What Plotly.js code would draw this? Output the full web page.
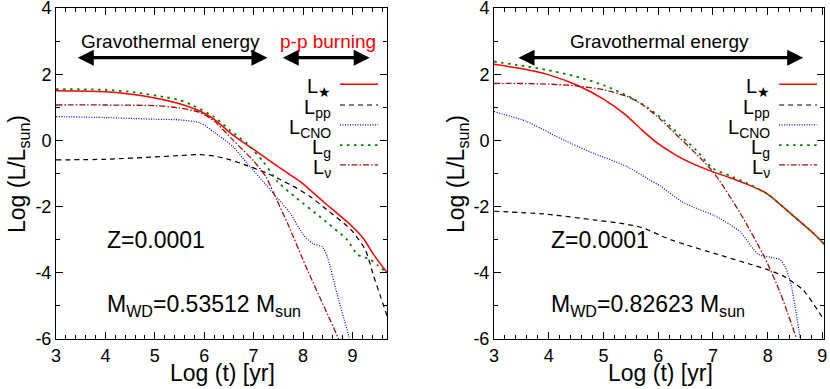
<!DOCTYPE html>
<html>
<head>
<meta charset="utf-8">
<script src="https://cdn.plot.ly/plotly-3.0.1.min.js"></script>
<style>
  html, body { margin: 0; padding: 0; background: #fff; }
  #plot { width: 830px; height: 389px; }
</style>
</head>
<body>
<div id="plot"></div>
<script>
// ---- data: log(t) [yr] vs log(L/Lsun) ----

// left panel, M_WD = 0.53512
let tStarA = [3, 4, 4.84, 5.45, 5.92, 6.19, 6.59, 6.87, 7.2, 7.54, 7.95, 8.42, 8.96, 9.23, 9.43, 9.7];
let lStarA = [1.50, 1.47, 1.33, 1.13, 0.88, 0.65, 0.15, -0.14, -0.48, -0.84, -1.25, -1.86, -2.55, -2.98, -3.45, -3.99];
let tPpA = [3, 4, 5, 5.5, 5.9, 6.2, 6.53, 6.87, 7.27, 7.5, 7.88, 8.15, 8.42, 8.96, 9.26, 9.43, 9.57, 9.7];
let lPpA = [-0.59, -0.57, -0.50, -0.46, -0.43, -0.47, -0.59, -0.76, -0.99, -1.15, -1.45, -1.70, -2.02, -2.68, -3.30, -4.10, -4.72, -5.30];
let tCnoA = [3, 4, 5, 5.51, 5.92, 6.19, 6.59, 6.87, 7.4, 7.74, 8.01, 8.22, 8.39, 8.49, 8.69, 8.93, 8.97];
let lCnoA = [0.72, 0.69, 0.64, 0.62, 0.53, 0.26, -0.2, -0.69, -1.6, -2.2, -2.86, -3.13, -3.21, -3.5, -4.65, -5.93, -6.2];
let tGA = [3, 4, 4.6, 5.24, 5.51, 5.78, 6.19, 6.53, 6.87, 7.2, 7.5, 7.85, 8.42, 8.89, 9.1, 9.37, 9.5, 9.7];
let lGA = [1.55, 1.53, 1.45, 1.30, 1.22, 1.05, 0.72, 0.30, -0.1, -0.65, -1.27, -1.72, -2.40, -3.0, -3.45, -3.60, -3.76, -4.0];
let tNuA = [3, 4, 5, 5.5, 5.9, 6.19, 6.59, 7.0, 7.25, 7.47, 7.7, 8.1, 8.45, 8.72, 8.8];
let lNuA = [1.07, 1.07, 1.05, 0.98, 0.85, 0.6, 0.0, -0.62, -1.1, -1.8, -2.55, -3.95, -5.1, -6.0, -6.3];

// right panel, M_WD = 0.82623
let tStarB = [3, 3.5, 4, 4.5, 5, 5.4, 5.7, 6.0, 6.3, 6.6, 7.0, 7.3, 7.62, 8.0, 8.4, 8.84, 9.05];
let lStarB = [2.30, 2.17, 1.98, 1.68, 1.25, 0.78, 0.32, -0.1, -0.42, -0.68, -0.95, -1.12, -1.32, -1.62, -2.18, -2.81, -3.16];
let tPpB = [3, 3.91, 4.82, 5.3, 5.7, 6.15, 6.5, 7.04, 7.68, 8.01, 8.29, 8.65, 9.04];
let lPpB = [-2.14, -2.22, -2.40, -2.50, -2.63, -2.95, -3.15, -3.42, -3.74, -3.91, -4.10, -4.52, -5.45];
let tCnoB = [3, 3.6, 4.21, 4.82, 5.43, 5.85, 6.04, 6.43, 6.65, 7.04, 7.49, 7.82, 8.05, 8.23, 8.33, 8.42, 8.5, 8.6];
let lCnoB = [0.87, 0.57, 0.06, -0.39, -0.79, -1.2, -1.38, -1.85, -2.02, -2.28, -2.75, -3.43, -3.53, -3.6, -3.85, -4.3, -5.0, -6.05];
let tGB = [3, 3.5, 4, 4.5, 5, 5.5, 5.8, 6.1, 6.4, 6.7, 7.0, 7.3, 7.62, 8.0, 8.4, 8.84, 9.05];
let lGB = [2.38, 2.26, 2.12, 1.93, 1.67, 1.30, 1.0, 0.62, 0.15, -0.3, -0.85, -1.06, -1.29, -1.62, -2.18, -2.81, -3.16];
let tNuB = [3, 3.5, 4, 4.5, 5, 5.43, 5.74, 6.04, 6.35, 6.58, 7.01, 7.5, 7.95, 8.23, 8.53];
let lNuB = [1.72, 1.72, 1.70, 1.65, 1.53, 1.33, 1.05, 0.64, 0.14, -0.22, -0.96, -2.2, -3.55, -4.6, -6.0];

// legend labels and tick labels
let seriesNames = ["L<sub>★</sub>", "L<sub>pp</sub>", "L<sub>CNO</sub>", "L<sub>g</sub>", "L<sub>ν</sub>"];
let xTicks = [3, 4, 5, 6, 7, 8, 9];
let yTicks = [-6, -4, -2, 0, 2, 4];
let yTickText = ["-6", "-4", "-2", "0", "2", "4"];
let massLabels = ["M<sub>WD</sub>=0.53512 M<sub>sun</sub>", "M<sub>WD</sub>=0.82623 M<sub>sun</sub>"];

// line styles, same order as seriesNames
let styles = [
    {color: "#ff0000", width: 1.5, dash: "solid"},
    {color: "#000000", width: 1.2, dash: "5px,4px"},
    {color: "#0000ff", width: 1.2, dash: "1px,1.5px"},
    {color: "#008000", width: 1.8, dash: "2.5px,4.5px"},
    {color: "#a01010", width: 1.3, dash: "6px,2px,1.5px,2px"}
];

let panelA = [[tStarA, lStarA], [tPpA, lPpA], [tCnoA, lCnoA], [tGA, lGA], [tNuA, lNuA]];
let panelB = [[tStarB, lStarB], [tPpB, lPpB], [tCnoB, lCnoB], [tGB, lGB], [tNuB, lNuB]];

let data = [];
function addPanel(panel, xa, ya) {
    panel.forEach(function(s, i) {
        data.push({
            x: s[0], y: s[1],
            xaxis: xa, yaxis: ya,
            type: "scatter", mode: "lines",
            line: {color: styles[i].color, width: styles[i].width, dash: styles[i].dash, shape: "spline", smoothing: 0.6},
            showlegend: false, hoverinfo: "skip"
        });
    });
}
addPanel(panelA, "x", "y");
addPanel(panelB, "x2", "y2");

let font = "Liberation Sans, Arial, Helvetica, sans-serif";

// minor tick positions
let xMinor = [];
for (let v = 3; v <= 9.8; v += 0.2) xMinor.push(Math.round(v * 10) / 10);
let yMinor = [-5, -3, -1, 1, 3];

function xAxis(domain, range, anchor) {
    return {
        domain: domain, range: range, anchor: anchor,
        tickmode: "array", tickvals: xTicks, ticktext: xTicks.map(String),
        ticks: "inside", ticklen: 7, tickcolor: "#000", tickwidth: 1,
        minor: {tickmode: "array", tickvals: xMinor, ticks: "inside", ticklen: 4, tickcolor: "#000", tickwidth: 1},
        showline: true, linecolor: "#000", linewidth: 1, mirror: "ticks",
        showgrid: false, zeroline: false, ticklabeloverflow: "allow",
        tickfont: {family: font, size: 18, color: "#000"}
    };
}
function yAxis(domain, anchor) {
    return {
        domain: domain, range: [-6, 4], anchor: anchor,
        tickmode: "array", tickvals: yTicks, ticktext: yTickText,
        ticks: "inside", ticklen: 7, tickcolor: "#000", tickwidth: 1,
        minor: {tickmode: "array", tickvals: yMinor, ticks: "inside", ticklen: 4, tickcolor: "#000", tickwidth: 1},
        showline: true, linecolor: "#000", linewidth: 1, mirror: "ticks",
        showgrid: false, zeroline: false, ticklabeloverflow: "allow",
        tickfont: {family: font, size: 18, color: "#000"}
    };
}

let yDom = [0.1285, 0.9794];
let annotations = [];
let shapes = [];

// axis titles
function axisTitles(cx, cyx) {
    annotations.push({xref: "paper", yref: "paper", x: cx, y: 1 - 373 / 389, text: "Log (t) [yr]",
        showarrow: false, font: {family: font, size: 23, color: "#000"}, xanchor: "center", yanchor: "middle"});
    annotations.push({xref: "paper", yref: "paper", x: cyx, y: 1 - 174 / 389, text: "Log (L/L<sub>sun</sub>)",
        textangle: -90, showarrow: false, font: {family: font, size: 23, color: "#000"}, xanchor: "center", yanchor: "middle"});
}
axisTitles(222 / 830, 18 / 830);
axisTitles(660 / 830, 457 / 830);

// legends drawn inside each panel: label on the left, line sample on the right
function legend(xa, ya, textX, x0, x1) {
    let rows = [0.770, 0.707, 0.647, 0.586, 0.526];
    seriesNames.forEach(function(name, i) {
        shapes.push({type: "line", xref: xa + " domain", yref: ya + " domain", x0: x0, x1: x1, y0: rows[i], y1: rows[i],
            line: {color: styles[i].color, width: styles[i].width, dash: styles[i].dash}});
        annotations.push({xref: xa + " domain", yref: ya + " domain", x: textX, y: rows[i] - 0.01, text: name,
            showarrow: false, xanchor: "right", yanchor: "middle", font: {family: font, size: 20, color: "#000"}});
    });
}
legend("x", "y", 0.836, 0.858, 0.973);
legend("x2", "y2", 0.841, 0.864, 0.979);

// double arrows and their labels
function arrow(xa, ya, xStart, xEnd) {
    annotations.push({xref: xa, yref: ya, axref: xa, ayref: ya, x: xEnd, y: 2.5, ax: xStart, ay: 2.5,
        text: "", showarrow: true, arrowside: "end+start", arrowhead: 2, arrowsize: 1, arrowwidth: 3.2, arrowcolor: "#000"});
}
arrow("x", "y", 3.41, 7.28);
arrow("x", "y", 7.56, 9.35);
arrow("x2", "y2", 3.42, 8.65);

annotations.push({xref: "x", yref: "y", x: 5.31, y: 3.0, text: "Gravothermal energy", showarrow: false,
    font: {family: font, size: 19, color: "#000"}});
annotations.push({xref: "x", yref: "y", x: 8.51, y: 3.0, text: "p-p burning", showarrow: false,
    font: {family: font, size: 19, color: "#ff0000"}});
annotations.push({xref: "x2", yref: "y2", x: 6.03, y: 3.0, text: "Gravothermal energy", showarrow: false,
    font: {family: font, size: 19, color: "#000"}});

// Z and mass labels
[["x", "y", 0], ["x2", "y2", 1]].forEach(function(p) {
    annotations.push({xref: p[0], yref: p[1], x: 4.0, y: -3.0, text: "Z=0.0001", showarrow: false,
        xanchor: "left", yanchor: "middle", font: {family: font, size: 23, color: "#000"}});
    annotations.push({xref: p[0], yref: p[1], x: 4.0, y: -4.98, text: massLabels[p[2]], showarrow: false,
        xanchor: "left", yanchor: "middle", font: {family: font, size: 23, color: "#000"}});
});

let layout = {
    width: 830, height: 389,
    margin: {l: 0, r: 0, t: 0, b: 0},
    paper_bgcolor: "#fff", plot_bgcolor: "#fff",
    showlegend: false,
    xaxis: xAxis([56 / 830, 387 / 830], [3, 9.7], "y"),
    yaxis: yAxis(yDom, "x"),
    xaxis2: xAxis([494 / 830, 824 / 830], [3, 9.03], "y2"),
    yaxis2: yAxis(yDom, "x2"),
    annotations: annotations,
    shapes: shapes
};

Plotly.newPlot("plot", data, layout, {staticPlot: true});
</script>
</body>
</html>
